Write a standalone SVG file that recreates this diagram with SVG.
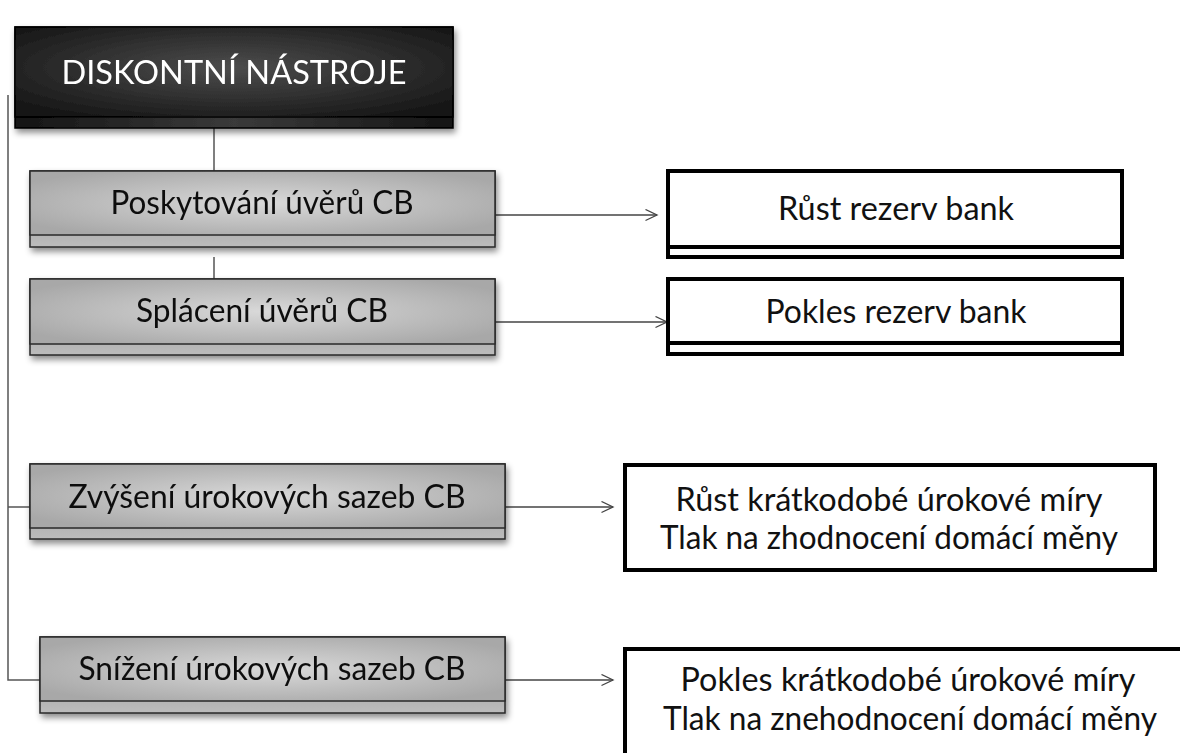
<svg xmlns="http://www.w3.org/2000/svg" width="1180" height="753" viewBox="0 0 1180 753">
  <style>
    .lbl { font-family: Lato, "Liberation Sans", sans-serif; font-size: 32px; text-anchor: middle; fill: #111; }
    .hdr { fill: #fff; }
    .face { fill: url(#grayFace); stroke: #2a2a2a; stroke-width: 1.5; }
    .strip { fill: url(#grayStrip); stroke: #2a2a2a; stroke-width: 1.5; }
    .out { fill: #fff; stroke: #000; stroke-width: 4; }
    .sep { stroke: #000; stroke-width: 4; }
    .link { fill: none; stroke: #555; stroke-width: 1.5; }
    .arrow { fill: none; stroke: #444; stroke-width: 1.3; marker-end: url(#chevron); }
  </style>
  <defs>
    <radialGradient id="darkFace" cx="0.5" cy="0.45" r="0.7">
      <stop offset="0" stop-color="#4d4d4d"/>
      <stop offset="1" stop-color="#121212"/>
    </radialGradient>
    <linearGradient id="darkStrip" x1="0" y1="0" x2="1" y2="0">
      <stop offset="0" stop-color="#151515"/>
      <stop offset="0.5" stop-color="#3a3a3a"/>
      <stop offset="1" stop-color="#151515"/>
    </linearGradient>
    <radialGradient id="grayFace" cx="0.5" cy="0.5" r="0.6">
      <stop offset="0" stop-color="#d9d9d9"/>
      <stop offset="1" stop-color="#a8a8a8"/>
    </radialGradient>
    <linearGradient id="grayStrip" x1="0" y1="0" x2="0" y2="1">
      <stop offset="0" stop-color="#8c8c8c"/>
      <stop offset="1" stop-color="#bcbcbc"/>
    </linearGradient>
    <filter id="shadow" x="-5%" y="-20%" width="112%" height="150%">
      <feDropShadow dx="2" dy="4" stdDeviation="3" flood-color="#000" flood-opacity="0.45"/>
    </filter>
    <marker id="chevron" markerUnits="userSpaceOnUse" markerWidth="14" markerHeight="14" refX="12" refY="6" orient="auto">
      <path d="M0.5,0.5 L12,6 L0.5,11.5" fill="none" stroke="#444" stroke-width="1.3"/>
    </marker>
  </defs>

  <!-- connectors -->
  <g id="connectors">
    <path class="link" d="M8,95 V680 H40"/>
    <path class="link" d="M8,507 H30"/>
    <path class="link" d="M214,128 V171"/>
    <path class="link" d="M214,257 V279"/>
    <path class="arrow" d="M495,215 H657"/>
    <path class="arrow" d="M495,322 H667"/>
    <path class="arrow" d="M505,507 H613"/>
    <path class="arrow" d="M505,680 H613"/>
  </g>

  <!-- heading -->
  <g id="node-diskontni" filter="url(#shadow)">
    <rect x="15" y="27" width="438" height="101" fill="url(#darkStrip)" stroke="#000" stroke-width="1.5"/>
    <rect x="15" y="27" width="438" height="90" fill="url(#darkFace)" stroke="#000" stroke-width="1.5"/>
    <text class="lbl hdr" x="234" y="84" textLength="345" lengthAdjust="spacingAndGlyphs">DISKONTNÍ NÁSTROJE</text>
  </g>

  <!-- instruments -->
  <g id="node-poskytovani" filter="url(#shadow)">
    <rect class="strip" x="30" y="171" width="465" height="76"/>
    <rect class="face" x="30" y="171" width="465" height="64"/>
    <text class="lbl" x="262" y="214" textLength="303" lengthAdjust="spacingAndGlyphs">Poskytování úvěrů CB</text>
  </g>
  <g id="node-splaceni" filter="url(#shadow)">
    <rect class="strip" x="30" y="279" width="465" height="76"/>
    <rect class="face" x="30" y="279" width="465" height="65"/>
    <text class="lbl" x="262" y="322" textLength="252" lengthAdjust="spacingAndGlyphs">Splácení úvěrů CB</text>
  </g>
  <g id="node-zvyseni" filter="url(#shadow)">
    <rect class="strip" x="30" y="464" width="475" height="75"/>
    <rect class="face" x="30" y="464" width="475" height="64"/>
    <text class="lbl" x="267" y="508" textLength="397" lengthAdjust="spacingAndGlyphs">Zvýšení úrokových sazeb CB</text>
  </g>
  <g id="node-snizeni" filter="url(#shadow)">
    <rect class="strip" x="40" y="637" width="465" height="76"/>
    <rect class="face" x="40" y="637" width="465" height="64"/>
    <text class="lbl" x="272" y="680" textLength="387" lengthAdjust="spacingAndGlyphs">Snížení úrokových sazeb CB</text>
  </g>

  <!-- effects -->
  <g id="node-rust-rezerv">
    <rect class="out" x="668" y="171" width="454" height="86"/>
    <line class="sep" x1="668" y1="247" x2="1122" y2="247"/>
    <text class="lbl" x="896" y="220" textLength="236" lengthAdjust="spacingAndGlyphs">Růst rezerv bank</text>
  </g>
  <g id="node-pokles-rezerv">
    <rect class="out" x="668" y="279" width="454" height="75"/>
    <line class="sep" x1="668" y1="343" x2="1122" y2="343"/>
    <text class="lbl" x="896" y="323" textLength="261" lengthAdjust="spacingAndGlyphs">Pokles rezerv bank</text>
  </g>
  <g id="node-zhodnoceni">
    <rect class="out" x="625" y="465" width="530" height="105"/>
    <text class="lbl" x="889" y="511" textLength="427" lengthAdjust="spacingAndGlyphs">Růst krátkodobé úrokové míry</text>
    <text class="lbl" x="889" y="549" textLength="458" lengthAdjust="spacingAndGlyphs">Tlak na zhodnocení domácí měny</text>
  </g>
  <g id="node-znehodnoceni">
    <rect class="out" x="625" y="649" width="600" height="140"/>
    <text class="lbl" x="908" y="691" textLength="455" lengthAdjust="spacingAndGlyphs">Pokles krátkodobé úrokové míry</text>
    <text class="lbl" x="910" y="730" textLength="494" lengthAdjust="spacingAndGlyphs">Tlak na znehodnocení domácí měny</text>
  </g>
</svg>
